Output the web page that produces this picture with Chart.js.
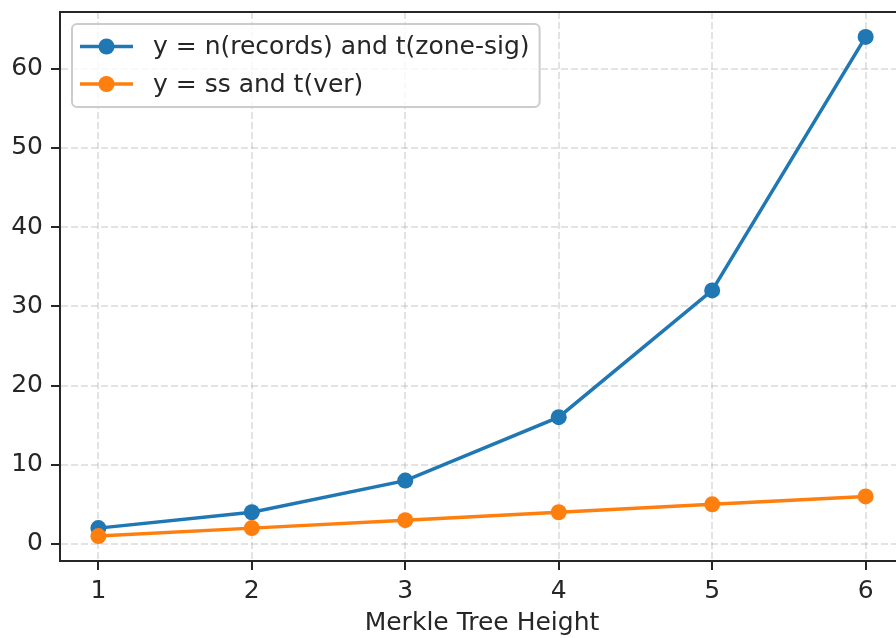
<!DOCTYPE html>
<html>
<head>
<meta charset="utf-8">
<script src="https://cdn.jsdelivr.net/npm/chart.js@4/dist/chart.umd.min.js"></script>
<style>
  html, body { margin: 0; padding: 0; background: #fff; overflow: hidden; }
  #wrap { position: relative; width: 920px; height: 638px; }
</style>
</head>
<body>
<div id="wrap"><canvas id="my-chart" width="920" height="638"></canvas></div>
<script>
// tree heights on the x axis
const heights = [1, 2, 3, 4, 5, 6];
const recordsSeries = [2, 4, 8, 16, 32, 64];
const ssSeries = [1, 2, 3, 4, 5, 6];
const xTicks = [1, 2, 3, 4, 5, 6];
const yTicks = [0, 10, 20, 30, 40, 50, 60];
const seriesLabels = ['y = n(records) and t(zone-sig)', 'y = ss and t(ver)'];

const FONT = 'DejaVu Sans';
const FSIZE = 25;
const INK = '#262626';

function toPoints(vals) {
  return heights.map((h, i) => ({ x: h, y: vals[i] }));
}

// top spine + matplotlib-like legend box
const framePlugin = {
  id: 'frame',
  afterDraw(chart) {
    const ctx = chart.ctx;
    const area = chart.chartArea;
    ctx.save();
    ctx.strokeStyle = INK;
    ctx.lineWidth = 2;
    ctx.beginPath();
    ctx.moveTo(area.left - 1, area.top);
    ctx.lineTo(area.right, area.top);
    ctx.stroke();

    // legend
    ctx.font = FSIZE + 'px "' + FONT + '"';
    const widths = chart.data.datasets.map((d) => ctx.measureText(d.label).width);
    const x0 = 72, y0 = 24;
    const textX = 153;
    const w = textX + Math.max(...widths) + 10 - x0;
    const h = 83;
    ctx.fillStyle = 'rgba(255,255,255,0.8)';
    ctx.strokeStyle = '#cccccc';
    ctx.lineWidth = 2;
    ctx.beginPath();
    ctx.roundRect(x0, y0, w, h, 5);
    ctx.fill();
    ctx.stroke();

    chart.data.datasets.forEach((d, i) => {
      const y = 46.5 + i * 37.5;
      ctx.strokeStyle = d.borderColor;
      ctx.lineWidth = 3.5;
      ctx.beginPath();
      ctx.moveTo(80, y);
      ctx.lineTo(133, y);
      ctx.stroke();
      ctx.fillStyle = d.borderColor;
      ctx.beginPath();
      ctx.arc(106.5, y, 8, 0, Math.PI * 2);
      ctx.fill();
      ctx.fillStyle = INK;
      ctx.textBaseline = 'middle';
      ctx.textAlign = 'left';
      ctx.fillText(d.label, textX, y + 1);
    });
    ctx.restore();
  },
};

const gridOpts = {
  color: 'rgba(176,176,176,0.35)',
  lineWidth: 2,
  tickColor: INK,
  tickLength: 9,
  tickWidth: 2,
  tickBorderDash: [],
};
const borderOpts = { display: true, color: INK, width: 2, dash: [7, 3] };

const ctx = document.getElementById('my-chart').getContext('2d');

const myChart = new Chart(ctx, {
  type: 'line',
  data: {
    datasets: [
      {
        label: seriesLabels[0],
        data: toPoints(recordsSeries),
        borderColor: '#1f77b4',
        backgroundColor: '#1f77b4',
        borderWidth: 3.5,
        pointRadius: 8,
        pointBorderWidth: 0,
        pointHoverRadius: 8,
        order: 1,
      },
      {
        label: seriesLabels[1],
        data: toPoints(ssSeries),
        borderColor: '#ff7f0e',
        backgroundColor: '#ff7f0e',
        borderWidth: 3.5,
        pointRadius: 8,
        pointBorderWidth: 0,
        pointHoverRadius: 8,
        order: 0,
      },
    ],
  },
  options: {
    responsive: false,
    animation: false,
    devicePixelRatio: 1,
    layout: { padding: { top: 12, left: 0, right: 16, bottom: 0 } },
    plugins: {
      legend: { display: false },
      tooltip: { enabled: false },
    },
    scales: {
      x: {
        type: 'linear',
        min: 0.75,
        max: 6.25,
        afterBuildTicks: (scale) => { scale.ticks = xTicks.map((v) => ({ value: v })); },
        afterFit: (scale) => {
          scale.height = 77;
          scale.paddingLeft = 0;
          scale.paddingRight = 0;
        },
        grid: Object.assign({}, gridOpts),
        border: Object.assign({}, borderOpts),
        ticks: {
          color: INK,
          font: { family: FONT, size: FSIZE },
          padding: 6,
          maxRotation: 0,
          callback: (v) => String(v),
        },
        title: {
          display: true,
          text: 'Merkle Tree Height',
          color: INK,
          font: { family: FONT, size: FSIZE, lineHeight: 1.2 },
          padding: 0,
        },
      },
      y: {
        type: 'linear',
        min: -2.15,
        max: 67.15,
        afterBuildTicks: (scale) => { scale.ticks = yTicks.map((v) => ({ value: v })); },
        afterFit: (scale) => {
          scale.width = 60;
          scale.paddingTop = 0;
          scale.paddingBottom = 0;
        },
        grid: Object.assign({}, gridOpts),
        border: Object.assign({}, borderOpts),
        ticks: {
          color: INK,
          font: { family: FONT, size: FSIZE },
          padding: 8,
          callback: (v) => String(v),
        },
      },
    },
  },
  plugins: [framePlugin],
});
</script>
</body>
</html>
